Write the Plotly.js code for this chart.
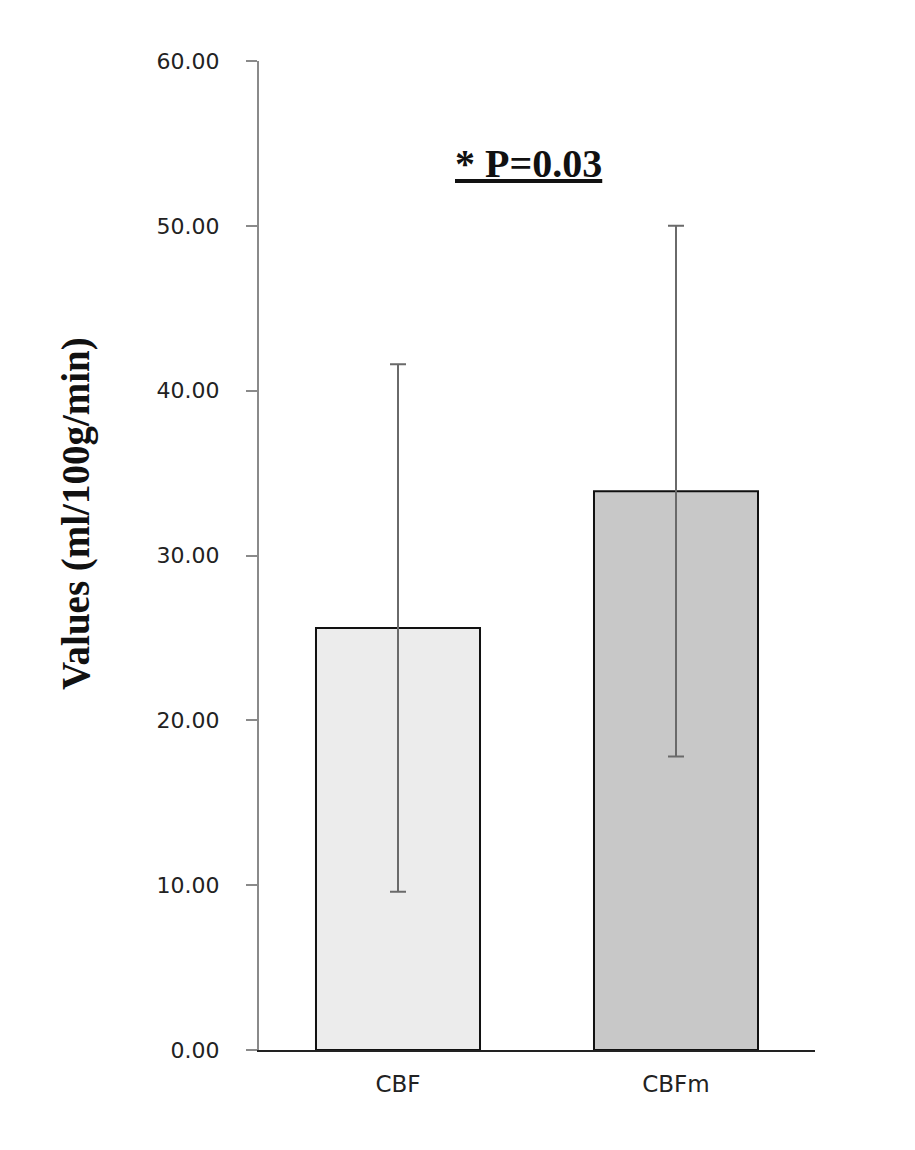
<!DOCTYPE html>
<html>
<head>
<meta charset="utf-8">
<script src="https://cdn.plot.ly/plotly-3.0.1.min.js"></script>
<style>html,body{margin:0;padding:0;background:#fff;}</style>
</head>
<body>
<div id="chart" style="width:915px;height:1150px;"></div>
<script>
var categories = ["CBF", "CBFm"];
var means = [25.6, 33.9];
var errors = [16.0, 16.1];
var barColors = ["#ececec", "#c8c8c8"];
var yTicks = [0, 10, 20, 30, 40, 50, 60];
var yTickLabels = ["0.00", "10.00", "20.00", "30.00", "40.00", "50.00", "60.00"];
var yTitle = "Values (ml/100g/min)";
var sigText = "* P=0.03";

var trace = {
  type: "bar",
  x: categories,
  y: means,
  width: 0.59,
  marker: { color: barColors, line: { color: "#111", width: 2 } },
  error_y: { type: "data", array: errors, visible: true, color: "#6a6a6a", thickness: 2, width: 8 },
  hoverinfo: "none"
};

var layout = {
  width: 915, height: 1150,
  margin: { l: 259, r: 100, t: 61, b: 100 },
  paper_bgcolor: "#fff", plot_bgcolor: "#fff",
  showlegend: false,
  xaxis: {
    type: "category",
    showline: true, linecolor: "#222", linewidth: 2,
    ticks: "", showgrid: false, zeroline: false,
    tickfont: { family: "DejaVu Sans", size: 23, color: "#222" },
    ticklabelstandoff: 12
  },
  yaxis: {
    range: [0, 60],
    tickvals: yTicks, ticktext: yTickLabels,
    showline: true, linecolor: "#8a8a8a", linewidth: 2,
    ticks: "outside", ticklen: 11, tickcolor: "#8a8a8a", tickwidth: 2,
    showgrid: false, zeroline: false,
    tickfont: { family: "DejaVu Sans", size: 22, color: "#222" },
    ticklabelstandoff: 22
  },
  annotations: [{
    xref: "paper", yref: "y",
    x: 0.4856, y: 53.8,
    text: "<b><u>" + sigText + "</u></b>",
    showarrow: false,
    font: { family: "Liberation Serif", size: 40, color: "#111" },
    xanchor: "center", yanchor: "middle"
  }, {
    xref: "paper", yref: "paper",
    x: -0.329, y: 0.542,
    text: "<b>" + yTitle + "</b>",
    textangle: -90,
    showarrow: false,
    font: { family: "Liberation Serif", size: 39, color: "#111" },
    xanchor: "center", yanchor: "middle"
  }]
};

Plotly.newPlot("chart", [trace], layout, { displayModeBar: false, staticPlot: true });
</script>
</body>
</html>
